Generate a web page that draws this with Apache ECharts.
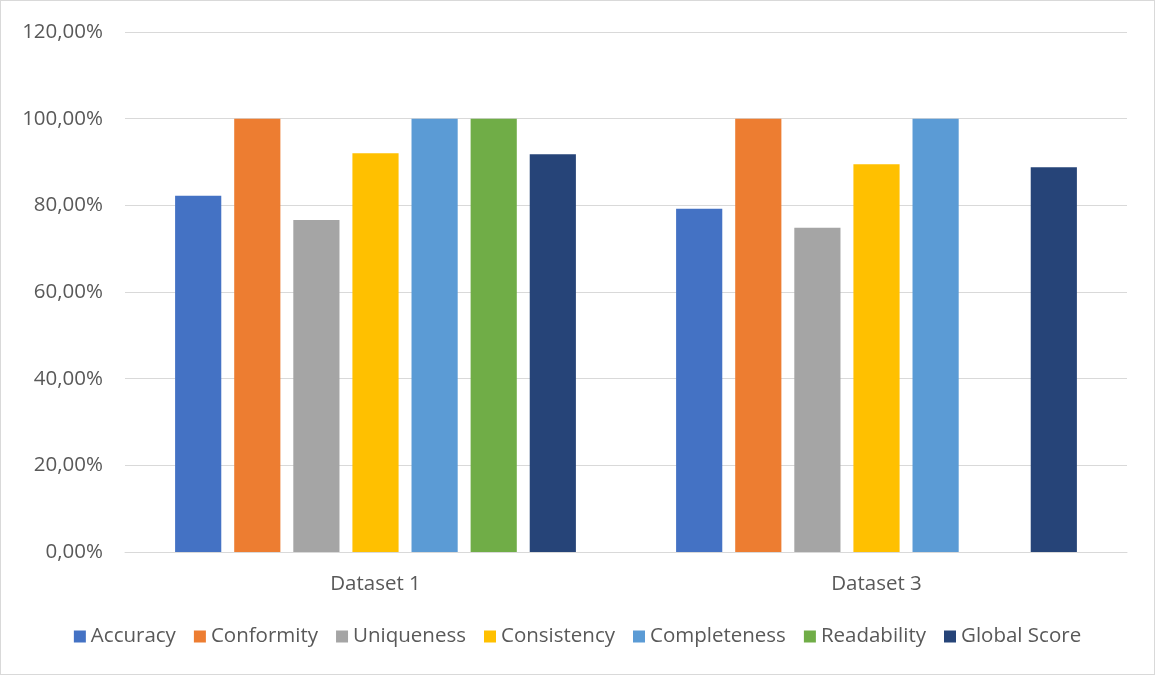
<!DOCTYPE html>
<html><head><meta charset="utf-8">
<script src="https://cdn.jsdelivr.net/npm/echarts@6/dist/echarts.min.js"></script>
<style>html,body{margin:0;padding:0;background:#fff}#c{width:1153px;height:673px;border:1px solid #d9d9d9}</style>
</head><body><div id="c"></div>
<script>
const categories = ['Dataset 1', 'Dataset 3'];
const seriesNames = ['Accuracy', 'Conformity', 'Uniqueness', 'Consistency', 'Completeness', 'Readability', 'Global Score'];
const accuracy = [82.2, 79.2];
const conformity = [100, 100];
const uniqueness = [76.6, 74.8];
const consistency = [92.0, 89.5];
const completeness = [100, 100];
const readability = [100, null];
const globalScore = [91.8, 88.8];
const yTicks = [0, 20, 40, 60, 80, 100, 120];
const colors = ['#4472c4', '#ed7d31', '#a5a5a5', '#ffc000', '#5b9bd5', '#70ad47', '#264478'];
const values = [accuracy, conformity, uniqueness, consistency, completeness, readability, globalScore];
const font = '"Open Sans", sans-serif';
const chart = echarts.init(document.getElementById('c'));
chart.setOption({
  animation: false,
  color: colors,
  grid: {left: 124, right: 27, top: 31, bottom: 122},
  legend: {
    bottom: 22, left: 'center', itemWidth: 12, itemHeight: 12, itemGap: 18,
    icon: 'rect',
    textStyle: {color: '#595959', fontSize: 20.5, fontFamily: font},
    data: seriesNames
  },
  xAxis: {
    type: 'category', data: categories,
    axisLine: {lineStyle: {color: '#d9d9d9', width: 1}},
    axisTick: {show: false},
    axisLabel: {color: '#595959', fontSize: 20.5, fontFamily: font, margin: 22}
  },
  yAxis: {
    type: 'value', min: yTicks[0], max: yTicks[yTicks.length - 1], interval: 20,
    axisLine: {show: false}, axisTick: {show: false},
    splitLine: {lineStyle: {color: '#d9d9d9', width: 1}},
    axisLabel: {color: '#595959', fontSize: 20.5, fontFamily: font, margin: 22,
      formatter: v => v.toFixed(2).replace('.', ',') + '%'}
  },
  series: seriesNames.map((n, i) => ({
    name: n, type: 'bar', data: values[i],
    barGap: '28%', barCategoryGap: '20%'
  }))
});
</script></body></html>
